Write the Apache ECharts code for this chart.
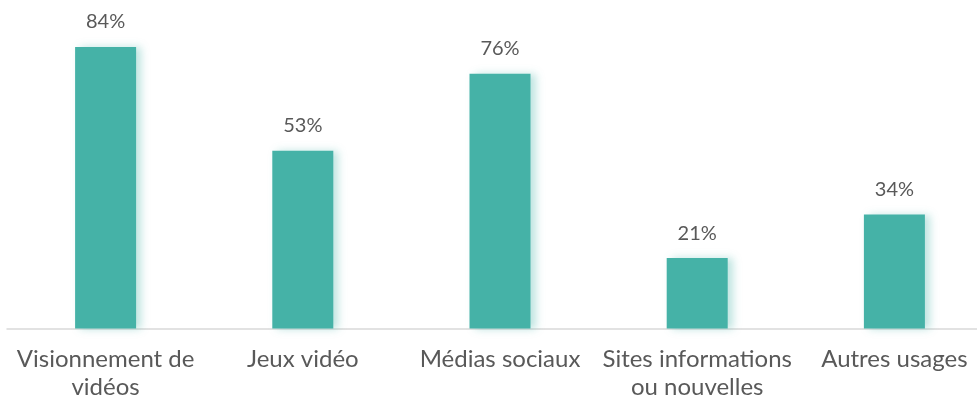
<!DOCTYPE html>
<html>
<head>
<meta charset="utf-8">
<script src="https://cdn.jsdelivr.net/npm/echarts@6/dist/echarts.min.js"></script>
<style>html,body{margin:0;padding:0;background:#fff}#c{width:977px;height:401px}</style>
</head>
<body>
<div id="c"></div>
<script>
const categories = ["Visionnement de\nvidéos", "Jeux vidéo", "Médias sociaux", "Sites informations\nou nouvelles", "Autres usages"];
const values = [84, 53, 76, 21, 34];

const chart = echarts.init(document.getElementById('c'), null, {renderer: 'canvas'});
chart.setOption({
  animation: false,
  backgroundColor: '#ffffff',
  grid: {left: 7, right: -16, top: 0, bottom: 72.5, containLabel: false, outerBoundsMode: 'none'},
  xAxis: {
    type: 'category',
    data: categories,
    axisLine: {show: true, lineStyle: {color: '#D9D9D9', width: 1.5}},
    axisTick: {show: false},
    axisLabel: {
      interval: 0,
      color: '#595959',
      fontFamily: 'Lato',
      fontSize: 24,
      lineHeight: 28,
      margin: 17,
      hideOverlap: false
    }
  },
  yAxis: {
    type: 'value',
    min: 0,
    max: 98,
    show: false,
    splitLine: {show: false}
  },
  series: [{
    type: 'bar',
    data: values,
    barWidth: 61,
    itemStyle: {
      color: '#45B2A7',
      shadowColor: 'rgba(69,178,167,0.35)',
      shadowBlur: 8,
      shadowOffsetX: 5,
      shadowOffsetY: 0
    },
    label: {
      show: true,
      position: 'top',
      distance: 15,
      formatter: '{c}%',
      color: '#595959',
      fontFamily: 'Lato',
      fontSize: 20,
      lineHeight: 20
    }
  }]
});
</script>
</body>
</html>
